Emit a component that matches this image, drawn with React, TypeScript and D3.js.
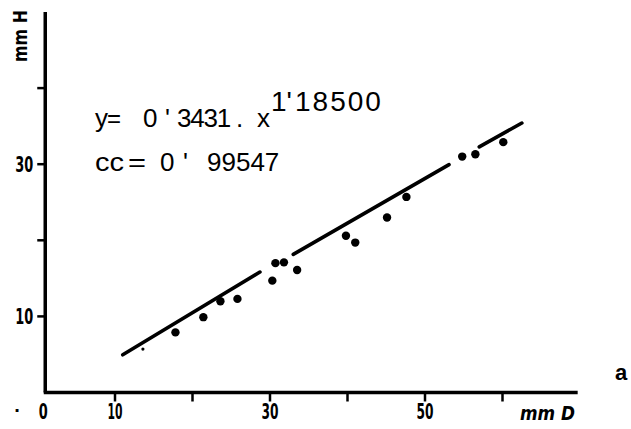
import { useEffect, useRef } from 'react';
import * as d3 from 'd3';

// Measured points (mm D, mm H)
const diamValues = [17.8, 21.4, 23.6, 25.8, 30.3, 30.7, 31.8, 33.5, 39.8, 41.0, 45.1, 47.6, 54.8, 56.5, 60.1];
const heightValues = [7.9, 9.9, 12.0, 12.3, 14.7, 17.0, 17.1, 16.1, 20.6, 19.7, 23.0, 25.7, 31.0, 31.3, 32.9];
// faint point near the start of the fit
const faintDiam = [13.6];
const faintHeight = [5.7];

// fitted curve as drawn, broken where it passes the points
const fitSegments: [number, number, number, number][] = [
  [11.0, 4.95, 28.7, 15.83],
  [33.0, 18.15, 53.1, 29.95],
  [57.0, 32.27, 62.5, 35.41],
];

const xTicks = [10, 20, 30, 40, 50, 60];
const xTickLabels = ['10', '30', '50'];
const yTicks = [10, 20, 30, 40];
const yTickLabels = ['10', '30'];

const W = 631;
const H = 429;

export default function App() {
  const svgRef = useRef<SVGSVGElement>(null);

  useEffect(() => {
    if (!svgRef.current) return;
    const svg = d3.select(svgRef.current);
    svg.selectAll('*').remove();

    const x = d3.scaleLinear().domain([0, 70]).range([37.5, 580]);
    const y = d3.scaleLinear().domain([0, 50]).range([392.5, 12]);

    const x0 = x(1);
    const y0 = y(0);
    const ink = '#000';
    const tickFont = 'DejaVu Sans, sans-serif';

    // axes
    svg.append('line').attr('x1', x0).attr('x2', x0).attr('y1', y(50)).attr('y2', y0)
      .attr('stroke', ink).attr('stroke-width', 3.5);
    svg.append('line').attr('x1', x0 - 1.5).attr('x2', x(69.7)).attr('y1', y0).attr('y2', y0)
      .attr('stroke', ink).attr('stroke-width', 3.5);

    // x ticks
    svg.selectAll('.xtick').data(xTicks).join('line')
      .attr('class', 'xtick')
      .attr('x1', (d) => x(d)).attr('x2', (d) => x(d))
      .attr('y1', y0).attr('y2', y0 + 9)
      .attr('stroke', ink).attr('stroke-width', 2.5);

    svg.selectAll('.xlab').data(xTickLabels).join('text')
      .attr('class', 'xlab')
      .attr('x', (d) => x(+d)).attr('y', 419)
      .attr('text-anchor', 'middle')
      .attr('font-family', tickFont).attr('font-weight', 'bold').attr('font-size', 21)
      .attr('textLength', (d) => (d === '10' ? 15 : 17)).attr('lengthAdjust', 'spacingAndGlyphs')
      .text((d) => d);

    svg.append('text').attr('x', x0 - 2).attr('y', 419).attr('text-anchor', 'middle')
      .attr('font-family', tickFont).attr('font-weight', 'bold').attr('font-size', 21)
      .attr('textLength', 9).attr('lengthAdjust', 'spacingAndGlyphs').text('0');
    svg.append('text').attr('x', 14).attr('y', 412)
      .attr('font-family', tickFont).attr('font-weight', 'bold').attr('font-size', 16).text('.');

    // y ticks
    svg.selectAll('.ytick').data(yTicks).join('line')
      .attr('class', 'ytick')
      .attr('x1', x0 - 8).attr('x2', x0)
      .attr('y1', (d) => y(d)).attr('y2', (d) => y(d))
      .attr('stroke', ink).attr('stroke-width', 2.5);

    svg.selectAll('.ylab').data(yTickLabels).join('text')
      .attr('class', 'ylab')
      .attr('x', x0 - 12).attr('y', (d) => y(+d) + 7.5)
      .attr('text-anchor', 'end')
      .attr('font-family', tickFont).attr('font-weight', 'bold').attr('font-size', 21)
      .attr('textLength', 18).attr('lengthAdjust', 'spacingAndGlyphs')
      .text((d) => d);

    // axis titles
    svg.append('text')
      .attr('transform', 'translate(27,62) rotate(-90)')
      .attr('font-family', tickFont).attr('font-weight', 'bold').attr('font-size', 19)
      .attr('textLength', 52).attr('lengthAdjust', 'spacingAndGlyphs')
      .text('mm H');
    svg.append('text')
      .attr('x', 520).attr('y', 420)
      .attr('font-family', tickFont).attr('font-weight', 'bold').attr('font-style', 'italic')
      .attr('font-size', 20)
      .attr('textLength', 55).attr('lengthAdjust', 'spacingAndGlyphs')
      .text('mm D');
    svg.append('text')
      .attr('x', 615).attr('y', 380)
      .attr('font-family', 'Liberation Sans, Arial, sans-serif').attr('font-weight', 'bold')
      .attr('font-size', 22)
      .text('a');

    // fitted line
    svg.selectAll('.fit').data(fitSegments).join('line')
      .attr('class', 'fit')
      .attr('x1', (d) => x(d[0])).attr('y1', (d) => y(d[1]))
      .attr('x2', (d) => x(d[2])).attr('y2', (d) => y(d[3]))
      .attr('stroke', ink).attr('stroke-width', 3.6).attr('stroke-linecap', 'round');

    // points
    svg.selectAll('.pt').data(diamValues).join('circle')
      .attr('class', 'pt')
      .attr('cx', (d) => x(d)).attr('cy', (_, i) => y(heightValues[i]))
      .attr('r', 4.2).attr('fill', ink);
    svg.selectAll('.faint').data(faintDiam).join('circle')
      .attr('class', 'faint')
      .attr('cx', (d) => x(d)).attr('cy', (_, i) => y(faintHeight[i]))
      .attr('r', 1.6).attr('fill', ink);

    // equation text, set piece by piece like the typed original
    const eq = svg.append('g')
      .attr('font-family', 'Liberation Sans, Arial, sans-serif')
      .attr('font-size', 26).attr('fill', ink);
    const piece = (tx: number, ty: number, s: string, len?: number, size?: number, ls?: number) => {
      const t = eq.append('text').attr('x', tx).attr('y', ty).text(s);
      if (len) t.attr('textLength', len).attr('lengthAdjust', 'spacingAndGlyphs');
      if (size) t.attr('font-size', size);
      if (ls !== undefined) t.attr('letter-spacing', ls);
    };
    piece(95, 127, 'y');
    piece(107, 127, '=', 14);
    piece(143, 127, '0');
    piece(165, 127, "'");
    piece(177, 127, '3431', undefined, undefined, -1.2);
    piece(236, 127, '.');
    piece(257, 127, 'x');
    piece(271, 111, "1'", undefined, 28);
    piece(295, 111, '18500', undefined, 28, 2);
    piece(95, 171, 'cc', 29);
    piece(128, 171, '=', 18);
    piece(160, 171, '0');
    piece(183, 171, "'");
    piece(207, 171, '99547');
  }, []);

  return (
    <svg
      ref={svgRef}
      width={W}
      height={H}
      viewBox={`0 0 ${W} ${H}`}
      style={{ position: 'absolute', left: 0, top: 0, display: 'block', background: '#fff' }}
    />
  );
}
